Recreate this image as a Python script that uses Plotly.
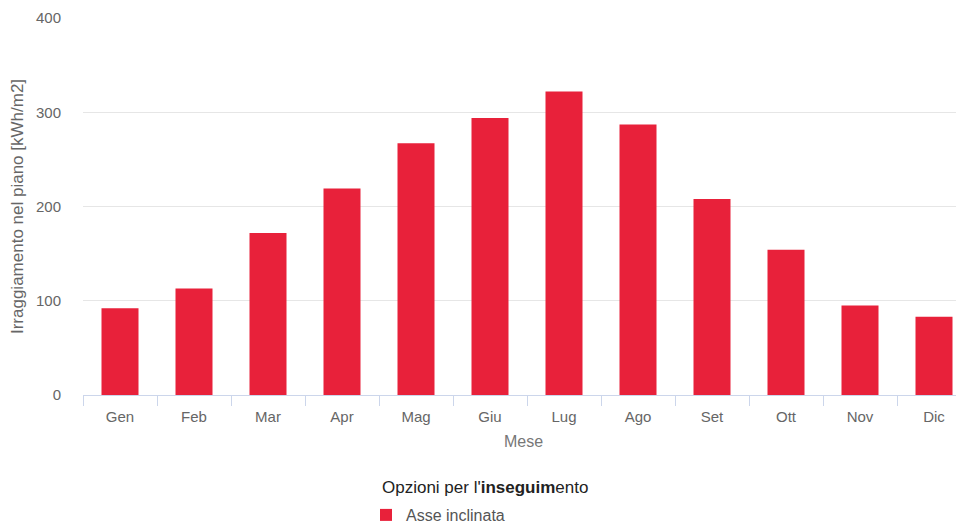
import plotly.graph_objects as go

months = ["Gen", "Feb", "Mar", "Apr", "Mag", "Giu", "Lug", "Ago", "Set", "Ott", "Nov", "Dic"]
irradiation = [92, 113, 172, 219, 267, 294, 322, 287, 208, 154, 95, 83]
y_ticks = [0, 100, 200, 300, 400]

series_name = "Asse inclinata"
legend_title = "Opzioni per l'<b>inseguim</b>ento"
bar_color = "#e8213a"

# The page body has an 8px margin, so the figure is drawn 8px in from the window edge.
W, H = 956, 519
L, T, B = 75, 10, 132
plot_h = H - T - B
plot_w = W - L
category_px = 74  # the last category boundary falls just beyond the window edge

fig = go.Figure()
fig.add_trace(go.Bar(
    x=months, y=irradiation, name=series_name,
    marker=dict(color=bar_color, line=dict(width=0)),
    showlegend=True,
))

font_family = "Liberation Sans, Arial, sans-serif"

fig.update_layout(
    width=W, height=H,
    margin=dict(l=L, r=0, t=T, b=B, autoexpand=False),
    paper_bgcolor="white", plot_bgcolor="white",
    font=dict(family=font_family, size=15, color="#666666"),
    bargap=0.5,
    showlegend=True,
    legend=dict(
        orientation="h",
        xref="container", yref="container",
        x=(372 - 14) / W, xanchor="left",
        y=1 - 490 / H, yanchor="top",
        font=dict(size=16, color="#555555"),
    ),
    xaxis=dict(
        automargin=False,
        title=dict(text="Mese", font=dict(size=16, color="#777777"), standoff=11),
        type="category",
        tickson="boundaries",
        ticks="outside", ticklen=10, tickcolor="#ccd6eb", tickwidth=1,
        showline=True, linecolor="#ccd6eb", linewidth=1,
        showgrid=False,
        tickfont=dict(size=15, color="#666666"),
        ticklabelstandoff=8,
        range=[-0.5, -0.5 + plot_w / category_px],
    ),
    yaxis=dict(
        automargin=False,
        title=dict(text="Irraggiamento nel piano [kWh/m2]", font=dict(size=17, color="#666666"), standoff=14),
        range=[0, 400],
        tickvals=y_ticks,
        showgrid=True, gridcolor="#e6e6e6", gridwidth=1,
        zeroline=False,
        showline=False,
        ticks="",
        tickfont=dict(size=15, color="#666666"),
        ticklabelstandoff=21,
    ),
    annotations=[dict(
        text=legend_title, xref="paper", yref="paper",
        x=(372 - L) / plot_w, xanchor="left",
        y=-(480 - (H - B)) / plot_h, yanchor="middle",
        showarrow=False, font=dict(size=17, color="#222222"),
    )],
)

fig.write_html("out.html")
